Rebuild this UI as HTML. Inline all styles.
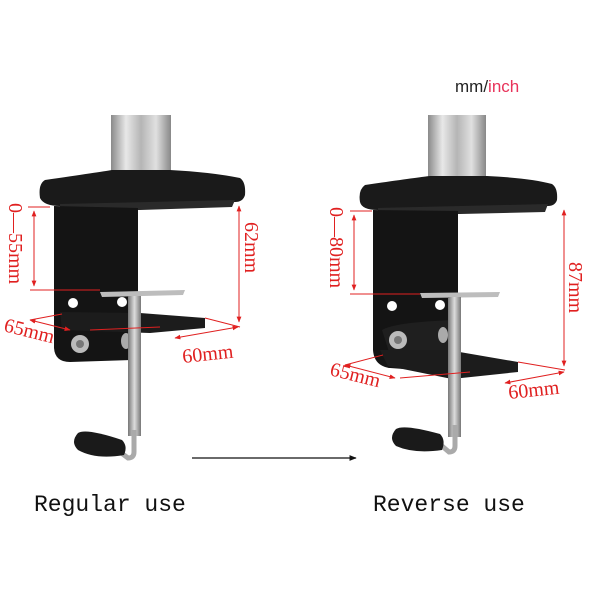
<!DOCTYPE html>
<html><head><meta charset="utf-8"><style>
html,body{margin:0;padding:0;background:#fff;width:600px;height:600px;overflow:hidden}
</style></head><body>
<svg width="600" height="600" viewBox="0 0 600 600" xmlns="http://www.w3.org/2000/svg">
<defs>
<linearGradient id="pole" x1="0" x2="1" y1="0" y2="0">
<stop offset="0" stop-color="#8a8a8a"/><stop offset="0.25" stop-color="#e8e8e8"/><stop offset="0.5" stop-color="#b5b5b5"/><stop offset="0.75" stop-color="#e0e0e0"/><stop offset="1" stop-color="#888"/>
</linearGradient>
<linearGradient id="rod" x1="0" x2="1" y1="0" y2="0">
<stop offset="0" stop-color="#777"/><stop offset="0.5" stop-color="#ddd"/><stop offset="1" stop-color="#777"/>
</linearGradient>
<marker id="ar" viewBox="0 0 10 10" refX="9" refY="5" markerWidth="6" markerHeight="6" orient="auto-start-reverse"><path d="M0,1 L10,5 L0,9 z" fill="#e02020"/></marker>
<marker id="ab" viewBox="0 0 10 10" refX="9" refY="5" markerWidth="8" markerHeight="6" orient="auto"><path d="M0,1 L10,5 L0,9 z" fill="#111"/></marker>
</defs>

<rect x="111" y="115" width="60" height="60" fill="url(#pole)"/>
<path d="M45,180 Q100,172 112,170 L170,170 Q210,172 240,178 Q246,182 245,195 Q243,202 235,202 L60,206 Q44,206 40,198 Q38,184 45,180 Z" fill="#1a1a1a"/>
<path d="M60,204 L235,200 L232,207 L140,210 L60,210 Z" fill="#2a2a2a"/>
<path d="M54,206 L138,208 L138,330 L130,360 L70,362 Q55,362 54,348 Z" fill="#141414"/>
<path d="M60,312 L140,313 L205,318 L205,328 L150,333 L62,330 Z" fill="#1c1c1c"/>
<path d="M100,292 L185,290 L183,295 L102,297 Z" fill="#bdbdbd"/>
<circle cx="73" cy="303" r="5" fill="#fff"/>
<circle cx="122" cy="302" r="5" fill="#fff"/>
<circle cx="80" cy="344" r="9" fill="#bbb"/><circle cx="80" cy="344" r="4" fill="#777"/>
<ellipse cx="126" cy="341" rx="5" ry="8" fill="#aaa"/>
<rect x="128" y="296" width="13" height="140" fill="url(#rod)"/>
<path d="M134,430 L134,452 Q134,458 128,458 L120,452" stroke="#aaa" stroke-width="5" fill="none"/>
<path d="M78,433 Q86,428 122,440 Q128,446 124,455 Q96,460 78,450 Q70,442 78,433 Z" fill="#1a1a1a"/>

<g stroke="#e02020" stroke-width="1" fill="none">
<line x1="28" y1="207" x2="50" y2="207"/>
<line x1="30" y1="290" x2="100" y2="290"/>
<line x1="34" y1="211" x2="34" y2="286" marker-start="url(#ar)" marker-end="url(#ar)"/>
<line x1="239" y1="206" x2="239" y2="322" marker-start="url(#ar)" marker-end="url(#ar)"/>
<line x1="30" y1="320" x2="62" y2="314"/>
<line x1="30" y1="320" x2="70" y2="330" marker-start="url(#ar)" marker-end="url(#ar)"/>
<line x1="90" y1="330" x2="160" y2="327"/>
<line x1="205" y1="318" x2="240" y2="327"/>
<line x1="175" y1="338" x2="238" y2="327" marker-start="url(#ar)" marker-end="url(#ar)"/>
</g>
<g fill="#e02020" font-family="Liberation Serif, serif" font-size="20">
<text transform="translate(9,203) rotate(90)">0—55mm</text>
<text transform="translate(245,222) rotate(90)">62mm</text>
<text transform="translate(3,331) rotate(14)">65mm</text>
<text transform="translate(183,363) rotate(-6)">60mm</text>
</g>

<rect x="428" y="115" width="58" height="68" fill="url(#pole)"/>
<path d="M365,185 Q420,177 430,176 L487,176 Q530,178 552,184 Q558,188 557,200 Q555,206 548,206 L378,210 Q362,210 360,202 Q358,190 365,185 Z" fill="#1a1a1a"/>
<path d="M378,208 L548,204 L545,212 L460,214 L378,214 Z" fill="#2a2a2a"/>
<path d="M373,210 L458,211 L458,352 L445,372 L390,368 Q374,366 373,350 Z" fill="#141414"/>
<path d="M382,330 Q395,322 455,320 L455,355 L390,355 Z" fill="#1f1f1f"/>
<path d="M380,350 L448,350 L518,362 L518,372 L452,379 L388,366 Z" fill="#1c1c1c"/>
<path d="M420,293 L500,292 L498,297 L422,298 Z" fill="#bdbdbd"/>
<circle cx="392" cy="306" r="5" fill="#fff"/>
<circle cx="440" cy="305" r="5" fill="#fff"/>
<circle cx="398" cy="340" r="9" fill="#bbb"/><circle cx="398" cy="340" r="4" fill="#777"/>
<ellipse cx="443" cy="335" rx="5" ry="8" fill="#aaa"/>
<rect x="448" y="297" width="13" height="140" fill="url(#rod)"/>
<path d="M455,425 L455,446 Q455,452 449,452 L442,446" stroke="#aaa" stroke-width="5" fill="none"/>
<path d="M396,429 Q404,424 440,434 Q446,440 442,450 Q414,454 396,446 Q388,438 396,429 Z" fill="#1a1a1a"/>

<g stroke="#e02020" stroke-width="1" fill="none">
<line x1="350" y1="211" x2="372" y2="211"/>
<line x1="350" y1="294" x2="420" y2="294"/>
<line x1="354" y1="215" x2="354" y2="290" marker-start="url(#ar)" marker-end="url(#ar)"/>
<line x1="564" y1="210" x2="564" y2="366" marker-start="url(#ar)" marker-end="url(#ar)"/>
<line x1="345" y1="365" x2="383" y2="355"/>
<line x1="345" y1="365" x2="395" y2="378" marker-start="url(#ar)" marker-end="url(#ar)"/>
<line x1="400" y1="378" x2="470" y2="372"/>
<line x1="518" y1="362" x2="565" y2="370"/>
<line x1="505" y1="383" x2="564" y2="372" marker-start="url(#ar)" marker-end="url(#ar)"/>
</g>
<g fill="#e02020" font-family="Liberation Serif, serif" font-size="20">
<text transform="translate(330,207) rotate(90)">0—80mm</text>
<text transform="translate(569,262) rotate(90)">87mm</text>
<text transform="translate(329,375) rotate(14)">65mm</text>
<text transform="translate(509,399) rotate(-6)">60mm</text>
</g>

<line x1="192" y1="458" x2="356" y2="458" stroke="#111" stroke-width="1.2" marker-end="url(#ab)"/>

<text x="455" y="92" font-family="Liberation Sans, sans-serif" font-size="17" fill="#222">mm/<tspan fill="#e8335a">inch</tspan></text>

<text x="34" y="511" font-family="Liberation Mono, monospace" font-size="23" fill="#111">Regular use</text>
<text x="373" y="511" font-family="Liberation Mono, monospace" font-size="23" fill="#111">Reverse use</text>
</svg>
</body></html>
